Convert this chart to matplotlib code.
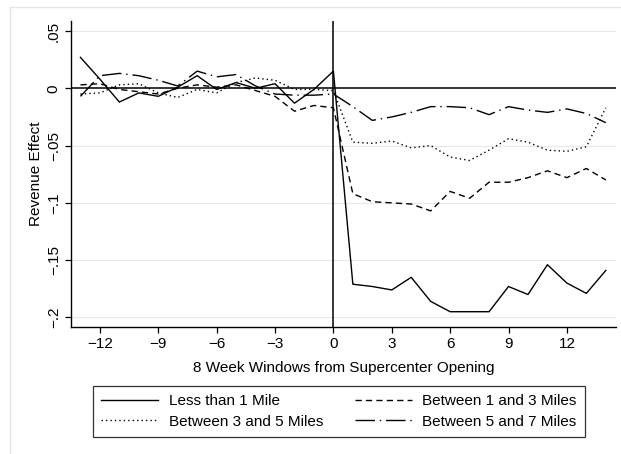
import matplotlib
matplotlib.use("Agg")
import matplotlib.pyplot as plt
from matplotlib.lines import Line2D

plt.rcParams["font.family"] = ["Liberation Sans", "DejaVu Sans"]

# 8 week windows relative to supercenter opening
windows = list(range(-13, 15))

# revenue effect by distance band
less_1 = [0.027, 0.008, -0.012, -0.004, -0.007, 0.001, 0.011, -0.001, 0.005, 0.000,
          0.004, -0.013, -0.001, 0.015,
          -0.171, -0.173, -0.176, -0.165, -0.186, -0.195, -0.195, -0.195, -0.173,
          -0.180, -0.154, -0.170, -0.179, -0.159]
between_1_3 = [0.003, 0.004, -0.001, -0.003, -0.005, 0.000, 0.003, 0.001, 0.003, -0.002,
               -0.007, -0.020, -0.015, -0.017,
               -0.092, -0.099, -0.100, -0.101, -0.107, -0.090, -0.096, -0.082, -0.082,
               -0.078, -0.072, -0.078, -0.070, -0.080]
between_3_5 = [-0.005, -0.004, 0.003, 0.004, -0.004, -0.008, -0.001, -0.004, 0.005, 0.009,
               0.007, -0.001, -0.001, -0.002,
               -0.047, -0.048, -0.046, -0.052, -0.050, -0.060, -0.063, -0.054, -0.044,
               -0.047, -0.054, -0.055, -0.051, -0.017]
between_5_7 = [-0.007, 0.011, 0.013, 0.011, 0.007, 0.002, 0.015, 0.010, 0.012, 0.002,
               -0.005, -0.006, -0.006, -0.005,
               -0.016, -0.028, -0.025, -0.021, -0.016, -0.016, -0.017, -0.023, -0.016,
               -0.019, -0.021, -0.018, -0.022, -0.030]

xticks = [-12, -9, -6, -3, 0, 3, 6, 9, 12]
yticks = [0.05, 0, -0.05, -0.1, -0.15, -0.2]
ytick_labels = [".05", "0", "\u2212.05", "\u2212.1", "\u2212.15", "\u2212.2"]

fig = plt.figure(figsize=(6.21, 4.54), dpi=100)
ax = fig.add_axes([0.1143, 0.2791, 0.878, 0.6753])

# faint outer frame like the graph region
fig.add_artist(Line2D([10 / 621, 10 / 621], [0, 1 - 7 / 454], color="#e6e6e6", lw=1))
fig.add_artist(Line2D([10 / 621, 1], [1 - 7 / 454, 1 - 7 / 454], color="#e6e6e6", lw=1))

for y in yticks:
    if y != 0:
        ax.axhline(y, color="#e8e8e8", lw=0.8, zorder=0)
ax.axhline(0, color="black", lw=1.1, zorder=1)
ax.axvline(0, color="black", lw=1.1, zorder=1)

l1, = ax.plot(windows, less_1, color="black", lw=1.0, label="Less than 1 Mile")
l2, = ax.plot(windows, between_1_3, color="black", lw=1.0, dashes=(4.5, 3),
              label="Between 1 and 3 Miles")
l3, = ax.plot(windows, between_3_5, color="black", lw=1.0, dashes=(1, 2.2),
              label="Between 3 and 5 Miles")
l4, = ax.plot(windows, between_5_7, color="black", lw=1.0, dashes=(14, 3.5, 1, 3.5),
              label="Between 5 and 7 Miles")

ax.set_xlim(-13.486, 14.535)
ax.set_ylim(-0.2086, 0.059)
ax.set_xticks(xticks)
ax.set_xticklabels([str(v).replace("-", "\u2212") for v in xticks])
ax.set_yticks(yticks)
ax.set_yticklabels(ytick_labels, rotation=90, va="center")

for side in ["top", "right"]:
    ax.spines[side].set_visible(False)
ax.spines["left"].set_linewidth(1.0)
ax.spines["bottom"].set_linewidth(1.0)
ax.tick_params(direction="out", length=4.3, width=0.9, labelsize=11, pad=3)

ax.set_xlabel("8 Week Windows from Supercenter Opening", fontsize=11, labelpad=7)
ax.set_ylabel("Revenue Effect", fontsize=11, labelpad=3)

leg = fig.legend(handles=[l1, l3, l2, l4], ncol=2, loc="center",
                 bbox_to_anchor=(0.5459, 0.0936), fontsize=11, frameon=True,
                 fancybox=False, edgecolor="black", handlelength=3.7,
                 handletextpad=0.7, columnspacing=2.1, borderpad=0.55,
                 labelspacing=0.42)
leg.get_frame().set_linewidth(0.9)

fig.savefig("out.png", dpi=100, facecolor="white")
